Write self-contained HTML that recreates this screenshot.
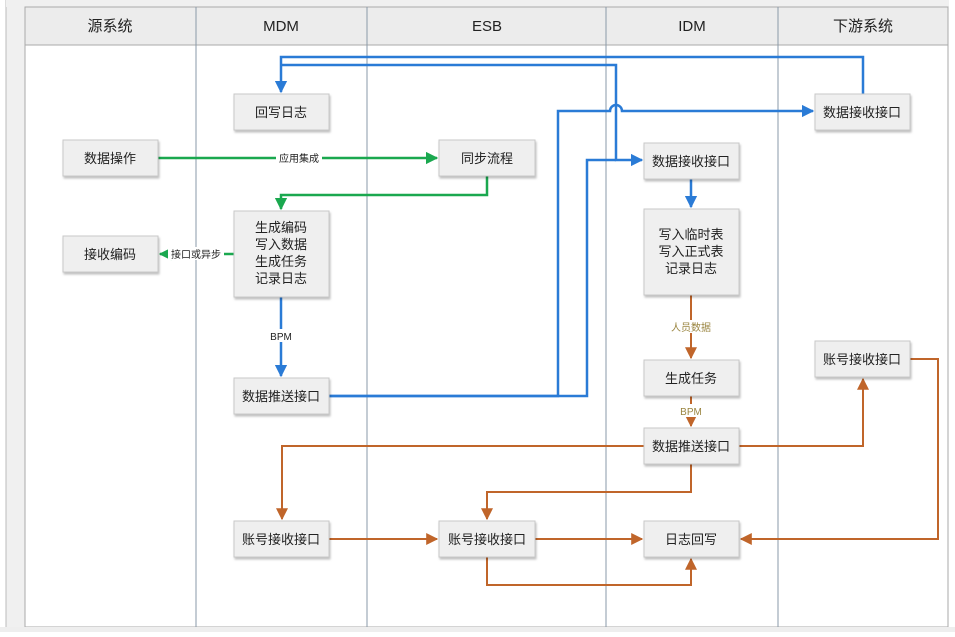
<!DOCTYPE html>
<html><head><meta charset="utf-8"><style>
body{margin:0;background:#fff;width:955px;height:632px;overflow:hidden;font-family:"Liberation Sans","Noto Sans CJK SC",sans-serif;}
</style></head><body>
<svg width="955" height="632" xmlns="http://www.w3.org/2000/svg" font-family="Liberation Sans, Noto Sans CJK SC, sans-serif">
<defs>
<marker id="b" viewBox="0 0 10 10" refX="9" refY="5" markerWidth="5" markerHeight="5" orient="auto"><path d="M0,0L10,5L0,10z" fill="#2a7bd6"/></marker>
<marker id="g" viewBox="0 0 10 10" refX="9" refY="5" markerWidth="5" markerHeight="5" orient="auto"><path d="M0,0L10,5L0,10z" fill="#1aa84f"/></marker>
<marker id="o" viewBox="0 0 10 10" refX="9" refY="5" markerWidth="6" markerHeight="6" orient="auto"><path d="M0,0L10,5L0,10z" fill="#c0652a"/></marker>
<filter id="s"><feDropShadow dx="1" dy="2" stdDeviation="1" flood-color="#000" flood-opacity="0.25"/></filter>
</defs>
<rect x="0" y="0" width="955" height="632" fill="#fff"/>
<rect x="6" y="0" width="20" height="632" fill="#f0f0f0" stroke="#bbb"/>
<rect x="6" y="0" width="943" height="7" fill="#f0f0f0"/>
<rect x="25" y="7" width="923" height="38" fill="#ececec" stroke="#aaa"/>
<rect x="25" y="45" width="923" height="582" fill="#fff" stroke="#aaa"/>
<g stroke="#8a9aa8" stroke-width="1">
<line x1="196" y1="7" x2="196" y2="627"/><line x1="367" y1="7" x2="367" y2="627"/>
<line x1="606" y1="7" x2="606" y2="627"/><line x1="778" y1="7" x2="778" y2="627"/>
</g>
<rect x="0" y="627" width="955" height="5" fill="#eee"/>
<g font-size="15" text-anchor="middle" fill="#222">
<text x="110" y="31">源系统</text><text x="281" y="31">MDM</text><text x="487" y="31">ESB</text><text x="692" y="31">IDM</text><text x="863" y="31">下游系统</text>
</g>
<g fill="none" stroke-width="2.5">
<path d="M863,94V57H281V92" stroke="#2a7bd6" marker-end="url(#b)"/>
<path d="M281,65H616V160H642" stroke="#2a7bd6" marker-end="url(#b)"/>
<path d="M329,396H587V160H616" stroke="#2a7bd6"/>
<path d="M329,396H558V111H610A6,6 0 0 1 622,111H813" stroke="#2a7bd6" marker-end="url(#b)"/>
<path d="M281,297V376" stroke="#2a7bd6" marker-end="url(#b)"/>
<path d="M691,179V207" stroke="#2a7bd6" marker-end="url(#b)"/>
<path d="M158,158H437" stroke="#1aa84f" marker-end="url(#g)"/>
<path d="M487,176V195H281V209" stroke="#1aa84f" marker-end="url(#g)"/>
<path d="M234,254H160" stroke="#1aa84f" marker-end="url(#g)"/>
</g>
<g fill="none" stroke="#c0652a" stroke-width="2">
<path d="M691,295V358" marker-end="url(#o)"/>
<path d="M691,396V426" marker-end="url(#o)"/>
<path d="M644,446H282V519" marker-end="url(#o)"/>
<path d="M739,446H863V379" marker-end="url(#o)"/>
<path d="M691,464V492H487V519" marker-end="url(#o)"/>
<path d="M329,539H437" marker-end="url(#o)"/>
<path d="M535,539H642" marker-end="url(#o)"/>
<path d="M487,557V585H691V559" marker-end="url(#o)"/>
<path d="M910,359H938V539H741" marker-end="url(#o)"/>
</g>
<g font-size="10" text-anchor="middle">
<rect x="276" y="151" width="46" height="13" fill="#fff"/><text x="299" y="162" fill="#222">应用集成</text>
<rect x="168" y="247" width="56" height="13" fill="#fff"/><text x="196" y="258" fill="#222">接口或异步</text>
<rect x="268" y="329" width="26" height="13" fill="#fff"/><text x="281" y="340" fill="#222">BPM</text>
<rect x="668" y="320" width="46" height="13" fill="#fff"/><text x="691" y="331" fill="#9a8540">人员数据</text>
<rect x="678" y="404" width="26" height="13" fill="#fff"/><text x="691" y="415" fill="#9a8540">BPM</text>
</g>
<g fill="#efefef" stroke="#c8c8c8" filter="url(#s)">
<rect x="234" y="94" width="95" height="36"/><rect x="63" y="140" width="95" height="36"/>
<rect x="439" y="140" width="96" height="36"/><rect x="234" y="211" width="95" height="86"/>
<rect x="63" y="236" width="95" height="36"/><rect x="234" y="378" width="95" height="36"/>
<rect x="644" y="143" width="95" height="36"/><rect x="644" y="209" width="95" height="86"/>
<rect x="815" y="94" width="95" height="36"/><rect x="644" y="360" width="95" height="36"/>
<rect x="644" y="428" width="95" height="36"/><rect x="815" y="341" width="95" height="36"/>
<rect x="234" y="521" width="95" height="36"/><rect x="439" y="521" width="96" height="36"/>
<rect x="644" y="521" width="95" height="36"/>
</g>
<g font-size="13" text-anchor="middle" fill="#222">
<text x="281" y="117">回写日志</text><text x="110" y="163">数据操作</text><text x="487" y="163">同步流程</text>
<text x="281" y="232">生成编码</text><text x="281" y="249">写入数据</text><text x="281" y="266">生成任务</text><text x="281" y="283">记录日志</text>
<text x="110" y="259">接收编码</text><text x="281" y="401">数据推送接口</text>
<text x="691" y="166">数据接收接口</text>
<text x="691" y="239">写入临时表</text><text x="691" y="256">写入正式表</text><text x="691" y="273">记录日志</text>
<text x="862" y="117">数据接收接口</text><text x="691" y="383">生成任务</text><text x="691" y="451">数据推送接口</text>
<text x="862" y="364">账号接收接口</text><text x="281" y="544">账号接收接口</text><text x="487" y="544">账号接收接口</text>
<text x="691" y="544">日志回写</text>
</g>
</svg>
</body></html>
